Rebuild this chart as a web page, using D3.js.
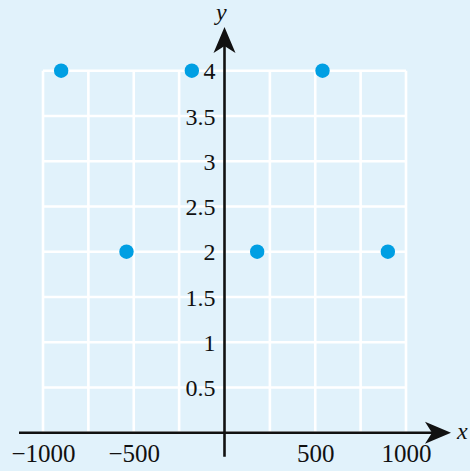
<!DOCTYPE html>
<html>
<head>
<meta charset="utf-8">
<script src="https://cdn.jsdelivr.net/npm/d3@7"></script>
<style>
  body { margin: 0; background: #e1f2fb; }
  svg { display: block; }
</style>
</head>
<body>
<div id="chart"></div>
<script>
var width = 470, height = 471;
var serif = "'Liberation Serif', 'Times New Roman', serif";

// data
var pointsX = [-900, -540, -180, 180, 540, 900];
var pointsY = [4, 2, 4, 2, 4, 2];
var xTicks = [-1000, -500, 500, 1000];
var yTicks = [0.5, 1, 1.5, 2, 2.5, 3, 3.5, 4];
var xGrid = [-1000, -750, -500, -250, 250, 500, 750, 1000];
var yGrid = [0, 0.5, 1, 1.5, 2, 2.5, 3, 3.5, 4];

var x = d3.scaleLinear().domain([-1000, 1000]).range([43, 406]);
var y = d3.scaleLinear().domain([0, 4]).range([432.7, 70.7]);

var svg = d3.select("#chart").append("svg")
    .attr("width", width)
    .attr("height", height);

svg.append("rect")
    .attr("width", width)
    .attr("height", height)
    .attr("fill", "#e1f2fb");

// grid
svg.append("g").selectAll("line")
    .data(xGrid)
    .enter().append("line")
    .attr("x1", d => x(d)).attr("x2", d => x(d))
    .attr("y1", y(0)).attr("y2", y(4))
    .attr("stroke", "#fff").attr("stroke-width", 2.6);

svg.append("g").selectAll("line")
    .data(yGrid)
    .enter().append("line")
    .attr("x1", x(-1000)).attr("x2", x(1000))
    .attr("y1", d => y(d)).attr("y2", d => y(d))
    .attr("stroke", "#fff").attr("stroke-width", 2.6);

// axes lines
var x0 = x(0), y0 = y(0);
svg.append("line")
    .attr("x1", x(-1000) - 24).attr("x2", x(1000) + 36)
    .attr("y1", y0).attr("y2", y0)
    .attr("stroke", "#111").attr("stroke-width", 2.6);
svg.append("line")
    .attr("x1", x0).attr("x2", x0)
    .attr("y1", y0 + 24).attr("y2", y(4) - 32)
    .attr("stroke", "#111").attr("stroke-width", 2.6);

// arrowheads (stealth shape)
function arrow(tx, ty, dir) {
    var L = 26, W = 11, N = 7;
    var p;
    if (dir == "up") {
        p = [[tx, ty], [tx + W, ty + L], [tx, ty + L - N], [tx - W, ty + L]];
    } else {
        p = [[tx, ty], [tx - L, ty + W], [tx - L + N, ty], [tx - L, ty - W]];
    }
    svg.append("path")
        .attr("d", "M" + p.join("L") + "Z")
        .attr("fill", "#111");
}
arrow(x0, 27, "up");
arrow(451, y0, "right");

// tick labels
var yAxis = svg.append("g")
    .attr("transform", "translate(" + x0 + ",0)")
    .call(d3.axisLeft(y).tickValues(yTicks).tickSize(0).tickPadding(9).tickFormat(d3.format("")));
yAxis.select(".domain").remove();
yAxis.selectAll("text")
    .attr("font-family", serif).attr("font-size", 24).attr("fill", "#111")
    .attr("dy", "0.34em");

var xAxis = svg.append("g")
    .attr("transform", "translate(0," + y0 + ")")
    .call(d3.axisBottom(x).tickValues(xTicks).tickSize(0).tickPadding(12).tickFormat(d3.format("")));
xAxis.select(".domain").remove();
xAxis.selectAll("text")
    .attr("font-family", serif).attr("font-size", 25).attr("fill", "#111");

// axis titles
svg.append("text")
    .attr("x", 457).attr("y", y0 + 6)
    .attr("font-family", serif)
    .attr("font-style", "italic")
    .attr("font-size", 24)
    .attr("fill", "#111")
    .text("x");
svg.append("text")
    .attr("x", 216).attr("y", 20)
    .attr("font-family", serif)
    .attr("font-style", "italic")
    .attr("font-size", 24)
    .attr("fill", "#111")
    .text("y");

// points
svg.append("g").selectAll("circle")
    .data(pointsX)
    .enter().append("circle")
    .attr("cx", d => x(d))
    .attr("cy", (d, i) => y(pointsY[i]))
    .attr("r", 7.2)
    .attr("fill", "#009fe3");
</script>
</body>
</html>
